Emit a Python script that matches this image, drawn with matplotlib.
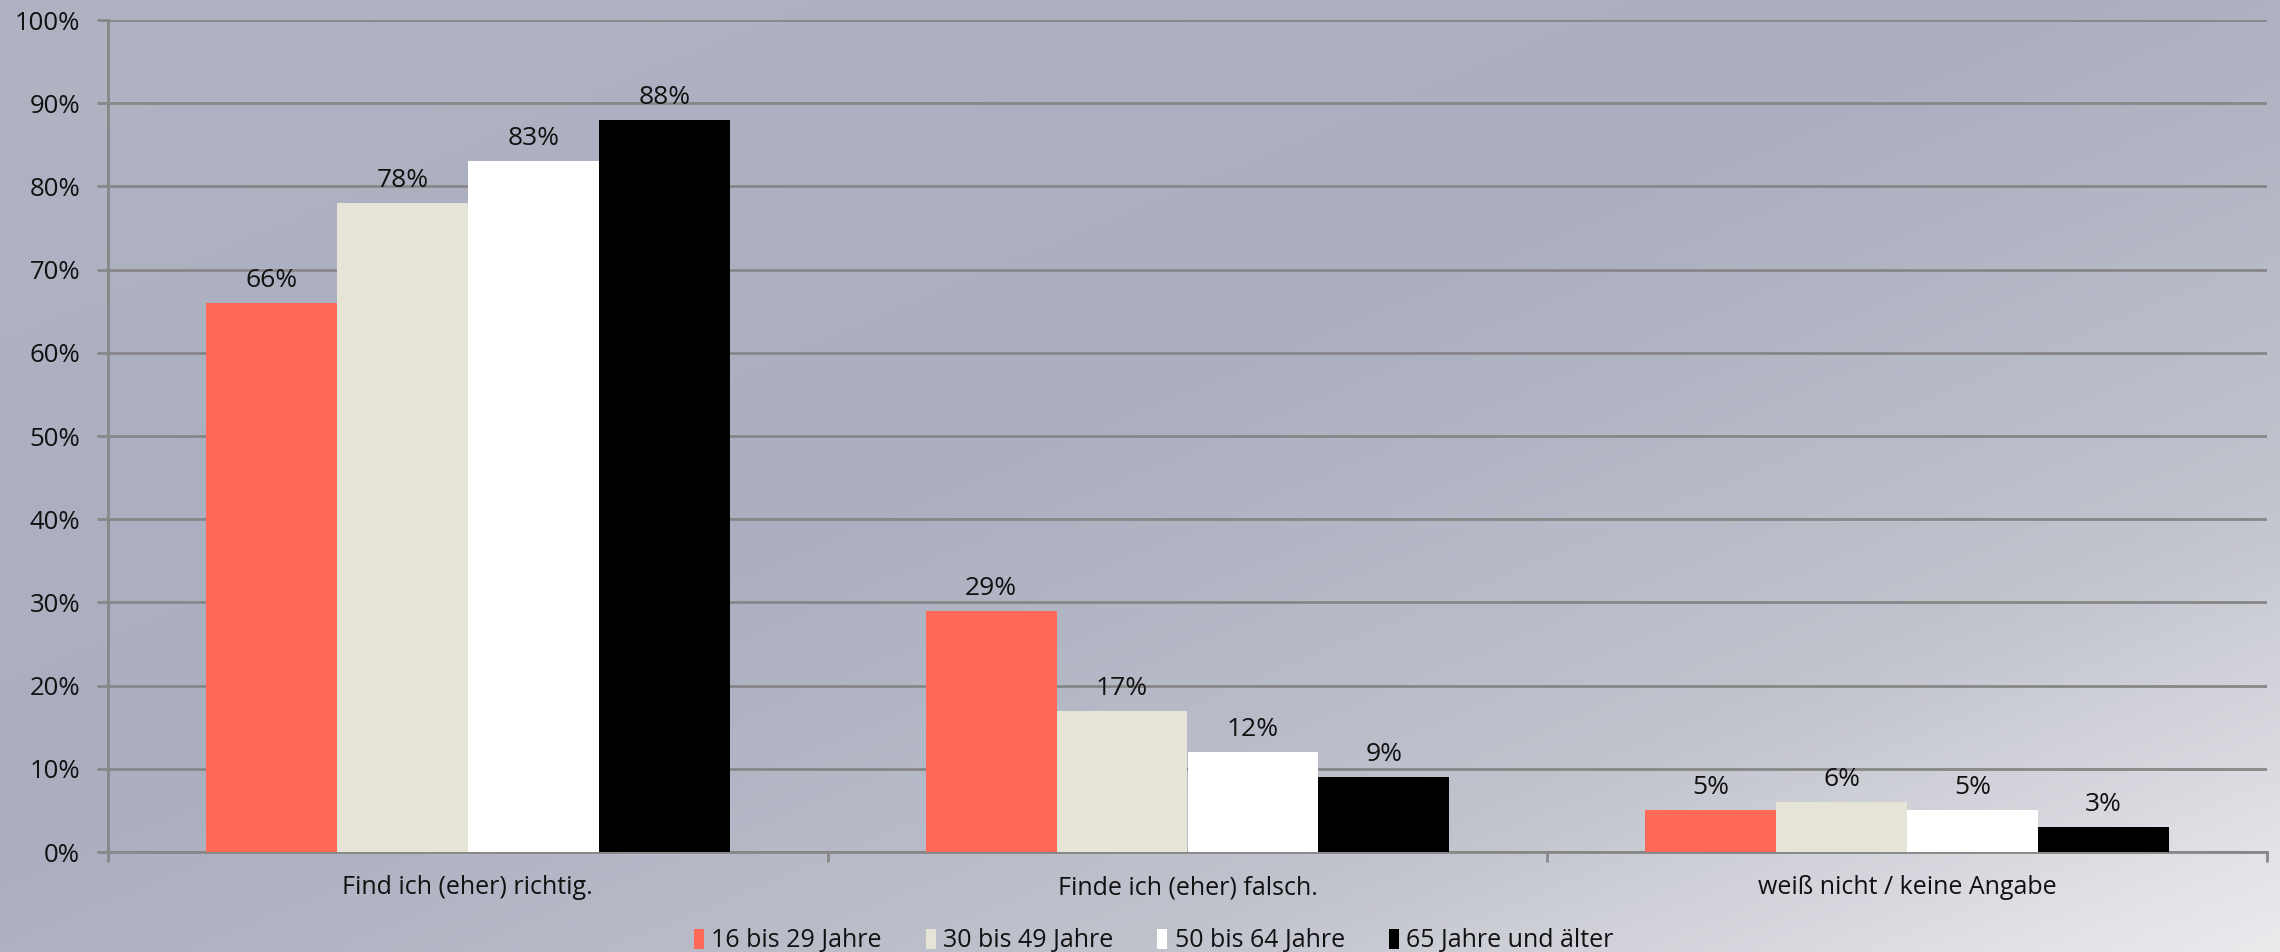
import numpy as np
import matplotlib
matplotlib.use("Agg")
import matplotlib.pyplot as plt
from matplotlib.colors import LinearSegmentedColormap
from matplotlib.patches import Patch

plt.rcParams['font.family'] = ['Open Sans', 'DejaVu Sans']

# Survey answers by age group (percent)
categories = ["Find ich (eher) richtig.", "Finde ich (eher) falsch.", "weiß nicht / keine Angabe"]
age_groups = ["16 bis 29 Jahre", "30 bis 49 Jahre", "50 bis 64 Jahre", "65 Jahre und älter"]
values_16_29 = [66, 29, 5]
values_30_49 = [78, 17, 6]
values_50_64 = [83, 12, 5]
values_65_plus = [88, 9, 3]
series = [values_16_29, values_30_49, values_50_64, values_65_plus]
colors = ["#ff6957", "#e6e4d7", "#ffffff", "#000000"]
yticks = [0, 10, 20, 30, 40, 50, 60, 70, 80, 90, 100]

W, H = 2280, 952
fig = plt.figure(figsize=(W / 100, H / 100), dpi=100)

# Diagonal background gradient
bg = fig.add_axes([0, 0, 1, 1], zorder=-10)
gx, gy = np.meshgrid(np.linspace(0, 1, 400), np.linspace(0, 1, 200))
t = (gx + gy) / 2
bg_cmap = LinearSegmentedColormap.from_list(
    "bg", [(0.0, "#b0b3c2"), (0.45, "#aaaebf"), (0.75, "#c0c2cc"), (1.0, "#ebebee")])
bg.imshow(t, cmap=bg_cmap, aspect="auto", extent=[0, 1, 1, 0], vmin=0, vmax=1)
bg.set_axis_off()

ax = fig.add_axes([108 / W, 1 - 852 / H, (2267 - 108) / W, (852 - 20) / H])
ax.set_facecolor("none")

x = np.arange(len(categories))
bar_w = 0.182
offsets = (np.arange(len(series)) - 1.5) * bar_w
for vals, col, off, name in zip(series, colors, offsets, age_groups):
    bars = ax.bar(x + off, vals, width=bar_w, color=col, label=name, zorder=3)
    for b, v in zip(bars, vals):
        ax.text(b.get_x() + b.get_width() / 2, v + 1.2, f"{v}%",
                ha="center", va="bottom", fontsize=19, color="#111111", zorder=4)

ax.set_xlim(-0.5, len(categories) - 0.5)
ax.set_ylim(0, 100)
ax.set_yticks(yticks)
ax.set_yticklabels([f"{v}%" for v in yticks], fontsize=18.5, color="#111111")
ax.yaxis.grid(True, color="#878787", linewidth=2, zorder=1)
ax.tick_params(axis="y", length=8, width=2, color="#878787", pad=12)

# Category labels centred, tick marks at the group boundaries
ax.set_xticks(np.arange(len(categories) + 1) - 0.5)
ax.set_xticklabels([])
ax.tick_params(axis="x", length=7, width=2, color="#878787")
for i, c in enumerate(categories):
    ax.text(i, -2.8, c, ha="center", va="top", fontsize=18, color="#111111",
            transform=ax.transData)

for s in ["top", "right"]:
    ax.spines[s].set_visible(False)
for s in ["left", "bottom"]:
    ax.spines[s].set_color("#878787")
    ax.spines[s].set_linewidth(2)

handles = [Patch(facecolor=c, edgecolor="none") for c in colors]
fig.legend(handles, age_groups, loc="center", bbox_to_anchor=(0.506, 1 - 941 / H),
           ncol=4, frameon=False, fontsize=18, handlelength=0.4, handleheight=0.9,
           handletextpad=0.3, columnspacing=1.75, labelcolor="#111111")

fig.savefig("out.png", dpi=100)
